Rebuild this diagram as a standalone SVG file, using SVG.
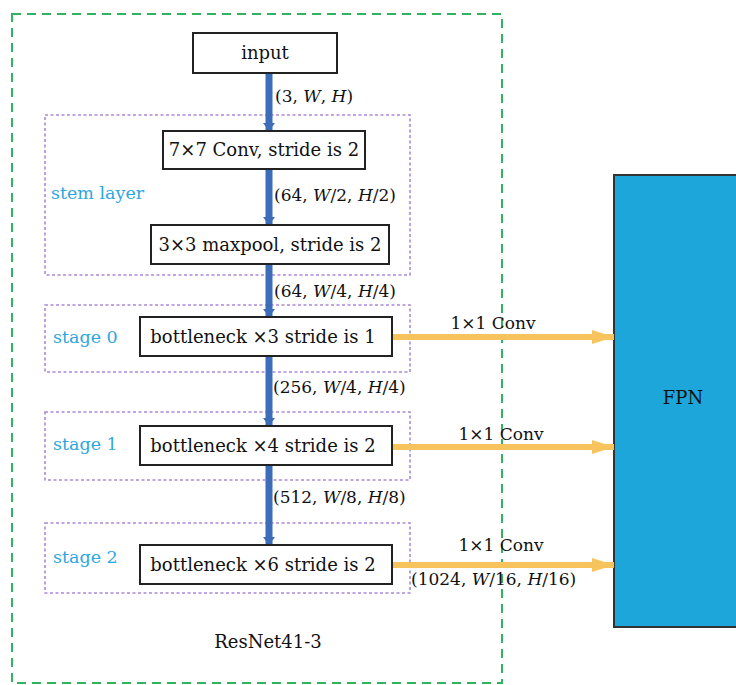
<svg xmlns="http://www.w3.org/2000/svg" width="736" height="685" viewBox="0 0 736 685">
<style>
text{font-family:"DejaVu Serif","Liberation Serif",serif;font-size:18px;fill:#111}
.box{fill:#fff;stroke:#222;stroke-width:2}
.grp{fill:none;stroke:#a98ad8;stroke-width:1.6;stroke-dasharray:3 2.5}
.lbl{fill:#2ea6e0;font-size:17.5px}
.blue{stroke:#3d6cb9;stroke-width:7;fill:none}
.orange{stroke:#f7c35c;stroke-width:6;fill:none}
.dim{font-size:17px}
</style>
<defs>
<marker id="bh" markerUnits="userSpaceOnUse" markerWidth="16" markerHeight="12" refX="10" refY="7.5" orient="auto" viewBox="0 0 10 15">
<path d="M0,0 L10,7.5 L0,15 Z" fill="#3d6cb9"/>
</marker>
<marker id="oh" markerUnits="userSpaceOnUse" markerWidth="22" markerHeight="14" refX="22" refY="7" orient="auto" viewBox="0 0 22 14">
<path d="M0,0 L22,7 L0,14 Z" fill="#f7c35c"/>
</marker>
</defs>
<rect id="resnet" x="12" y="14" width="490" height="669" fill="none" stroke="#2fb360" stroke-width="2" stroke-dasharray="9 6"/>
<g id="groups">
<rect x="45" y="115" width="365" height="160" class="grp"/>
<rect x="45" y="305" width="365" height="67" class="grp"/>
<rect x="45" y="412" width="365" height="68" class="grp"/>
<rect x="45" y="523" width="365" height="70" class="grp"/>
<text class="lbl" x="51" y="199">stem layer</text>
<text class="lbl" x="53" y="343">stage 0</text>
<text class="lbl" x="53" y="450">stage 1</text>
<text class="lbl" x="53" y="563">stage 2</text>
</g>
<g id="fpn">
<rect x="614" y="175" width="130" height="452" fill="#1ca6da" stroke="#333" stroke-width="2"/>
<text x="683" y="404" text-anchor="middle">FPN</text>
</g>
<g id="connectors">
<line class="blue" x1="269" y1="73" x2="269" y2="131" marker-end="url(#bh)"/>
<line class="blue" x1="269" y1="169" x2="269" y2="225" marker-end="url(#bh)"/>
<line class="blue" x1="269" y1="264" x2="269" y2="317" marker-end="url(#bh)"/>
<line class="blue" x1="269" y1="356" x2="269" y2="426" marker-end="url(#bh)"/>
<line class="blue" x1="269" y1="465" x2="269" y2="545" marker-end="url(#bh)"/>
<line class="orange" x1="392" y1="337" x2="614" y2="337" marker-end="url(#oh)"/>
<line class="orange" x1="392" y1="447" x2="614" y2="447" marker-end="url(#oh)"/>
<line class="orange" x1="392" y1="565" x2="614" y2="565" marker-end="url(#oh)"/>
<text class="dim" x="275" y="102">(3, <tspan font-style="italic">W</tspan>, <tspan font-style="italic">H</tspan>)</text>
<text class="dim" x="274" y="201">(64, <tspan font-style="italic">W</tspan>/2, <tspan font-style="italic">H</tspan>/2)</text>
<text class="dim" x="274" y="297">(64, <tspan font-style="italic">W</tspan>/4, <tspan font-style="italic">H</tspan>/4)</text>
<text class="dim" x="273" y="393">(256, <tspan font-style="italic">W</tspan>/4, <tspan font-style="italic">H</tspan>/4)</text>
<text class="dim" x="273" y="503">(512, <tspan font-style="italic">W</tspan>/8, <tspan font-style="italic">H</tspan>/8)</text>
<text class="dim" x="411" y="585">(1024, <tspan font-style="italic">W</tspan>/16, <tspan font-style="italic">H</tspan>/16)</text>
<text class="dim" x="493" y="329" text-anchor="middle">1×1 Conv</text>
<text class="dim" x="501" y="440" text-anchor="middle">1×1 Conv</text>
<text class="dim" x="501" y="551" text-anchor="middle">1×1 Conv</text>
</g>
<g id="input"><rect class="box" x="193" y="33" width="144" height="40"/><text x="265" y="59" text-anchor="middle">input</text></g>
<g id="conv7"><rect class="box" x="163" y="131" width="202" height="38"/><text x="264" y="156" text-anchor="middle">7×7 Conv, stride is 2</text></g>
<g id="maxpool"><rect class="box" x="151" y="225" width="238" height="39"/><text x="270" y="251" text-anchor="middle">3×3 maxpool, stride is 2</text></g>
<g id="stage0"><rect class="box" x="140" y="317" width="252" height="39"/><text x="263" y="343" text-anchor="middle">bottleneck ×3 stride is 1</text></g>
<g id="stage1"><rect class="box" x="140" y="426" width="252" height="39"/><text x="263" y="452" text-anchor="middle">bottleneck ×4 stride is 2</text></g>
<g id="stage2"><rect class="box" x="140" y="545" width="252" height="39"/><text x="263" y="571" text-anchor="middle">bottleneck ×6 stride is 2</text></g>
<text x="268" y="648" text-anchor="middle">ResNet41-3</text>
</svg>
